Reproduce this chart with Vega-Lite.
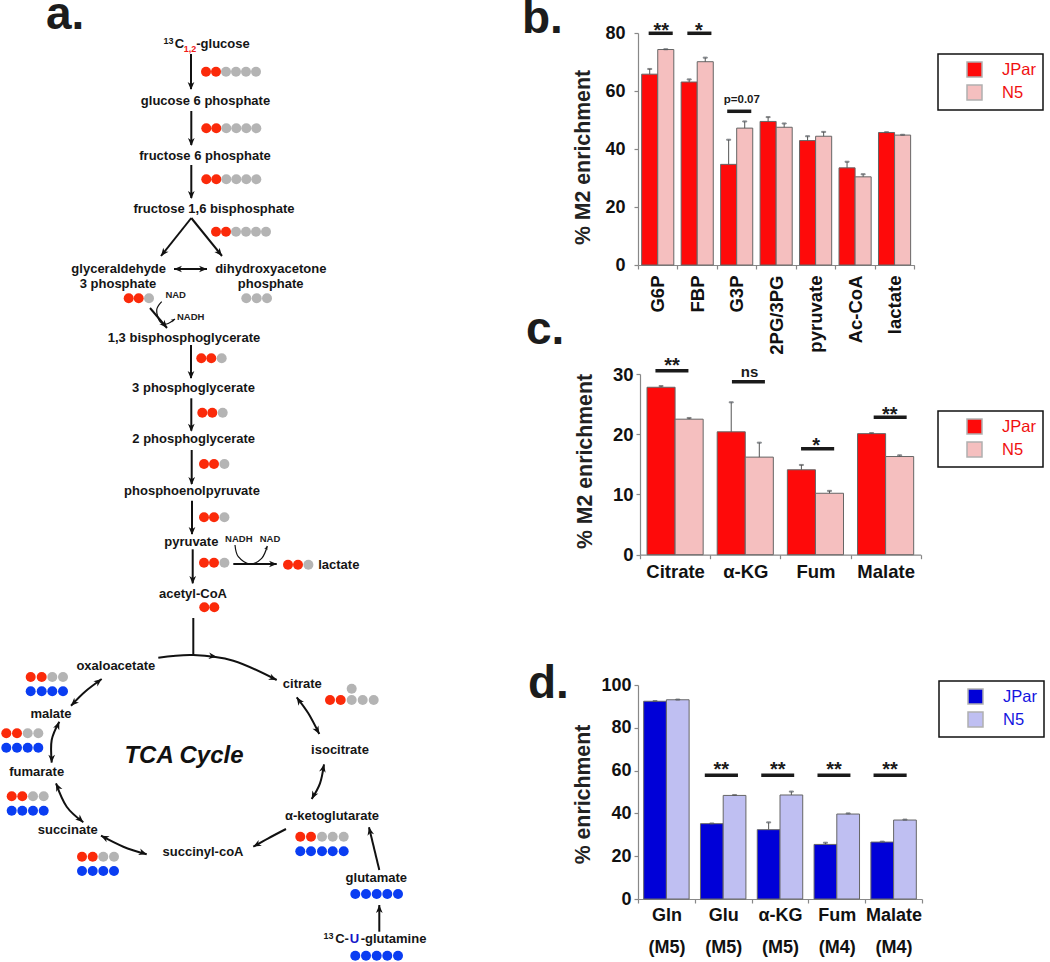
{
"$schema":"https://vega.github.io/schema/vega-lite/v6.json",
"padding":0,
"background":"white",
"bounds":"flush",
"spacing":0,
"config":{"font":"Liberation Sans","view":{"stroke":null},
"axis":{"grid":false,"labelFont":"Liberation Sans","labelFontWeight":"bold","labelFontSize":18,"labelColor":"#111","titleFont":"Liberation Sans","titleFontWeight":"bold","titleFontSize":21.3,"titleColor":"#222","domainColor":"#888","tickColor":"#888","domainWidth":1.2,"tickWidth":1.2,"tickSize":4,"labelPadding":3},
"legend":{"title":null,"symbolSize":225,"symbolType":"square","labelFont":"Liberation Sans","labelFontSize":16.5,"strokeColor":"#111","strokeWidth":1.5,"padding":7,"symbolOffset":21,"labelOffset":19,"rowPadding":2}},
"resolve":{"scale":{"color":"independent","x":"independent","y":"independent"},"legend":{"color":"independent"}},
"datasets":{
"labels":[
{"x":46,"y":29,"text":"a.","role":"letter"},
{"x":522,"y":33,"text":"b.","role":"letter"},
{"x":526,"y":344,"text":"c.","role":"letter"},
{"x":528,"y":698,"text":"d.","role":"letter"},
{"x":179.5,"y":44,"text":"C","role":"main"},
{"x":223,"y":44,"text":"-glucose","role":"main"},
{"x":205.5,"y":101,"text":"glucose 6 phosphate","role":"main"},
{"x":205,"y":155.7,"text":"fructose 6 phosphate","role":"main"},
{"x":214,"y":209,"text":"fructose 1,6 bisphosphate","role":"main"},
{"x":118.7,"y":268.7,"text":"glyceraldehyde","role":"main"},
{"x":118,"y":283.7,"text":"3 phosphate","role":"main"},
{"x":270.8,"y":268.7,"text":"dihydroxyacetone","role":"main"},
{"x":270.7,"y":283.7,"text":"phosphate","role":"main"},
{"x":184,"y":337.7,"text":"1,3 bisphosphoglycerate","role":"main"},
{"x":193.5,"y":388,"text":"3 phosphoglycerate","role":"main"},
{"x":193.7,"y":439.3,"text":"2 phosphoglycerate","role":"main"},
{"x":192,"y":490.7,"text":"phosphoenolpyruvate","role":"main"},
{"x":191.3,"y":542,"text":"pyruvate","role":"main"},
{"x":338.8,"y":564.7,"text":"lactate","role":"main"},
{"x":193,"y":594,"text":"acetyl-CoA","role":"main"},
{"x":115.8,"y":666.3,"text":"oxaloacetate","role":"main"},
{"x":302.3,"y":684.3,"text":"citrate","role":"main"},
{"x":51,"y":713.7,"text":"malate","role":"main"},
{"x":340,"y":750,"text":"isocitrate","role":"main"},
{"x":36.7,"y":771.7,"text":"fumarate","role":"main"},
{"x":332,"y":815.7,"text":"α-ketoglutarate","role":"main"},
{"x":67.7,"y":830,"text":"succinate","role":"main"},
{"x":203,"y":852,"text":"succinyl-coA","role":"main"},
{"x":376.3,"y":877.7,"text":"glutamate","role":"main"},
{"x":342,"y":939,"text":"C-","role":"main"},
{"x":393.5,"y":939,"text":"-glutamine","role":"main"},
{"x":354.5,"y":939,"text":"U","role":"blue"},
{"x":168.5,"y":41,"text":"13","role":"sup"},
{"x":328.5,"y":936,"text":"13","role":"sup"},
{"x":190,"y":49,"text":"1,2","role":"red"},
{"x":175.7,"y":295.3,"text":"NAD","role":"small"},
{"x":190.7,"y":316.7,"text":"NADH","role":"small"},
{"x":238.8,"y":539.3,"text":"NADH","role":"small"},
{"x":270,"y":539.3,"text":"NAD","role":"small"},
{"x":184,"y":756,"text":"TCA Cycle","role":"cycle"}
],
"dots":[
{"x":206,"y":71.7,"c":"r"},{"x":216,"y":71.7,"c":"r"},{"x":226,"y":71.7,"c":"a"},{"x":236,"y":71.7,"c":"a"},{"x":246,"y":71.7,"c":"a"},{"x":256,"y":71.7,"c":"a"},
{"x":206.3,"y":128.3,"c":"r"},{"x":216.3,"y":128.3,"c":"r"},{"x":226.3,"y":128.3,"c":"a"},{"x":236.3,"y":128.3,"c":"a"},{"x":246.3,"y":128.3,"c":"a"},{"x":256.3,"y":128.3,"c":"a"},
{"x":206.3,"y":179.3,"c":"r"},{"x":216.3,"y":179.3,"c":"r"},{"x":226.3,"y":179.3,"c":"a"},{"x":236.3,"y":179.3,"c":"a"},{"x":246.3,"y":179.3,"c":"a"},{"x":256.3,"y":179.3,"c":"a"},
{"x":216,"y":231.7,"c":"r"},{"x":226,"y":231.7,"c":"r"},{"x":236,"y":231.7,"c":"a"},{"x":246,"y":231.7,"c":"a"},{"x":256,"y":231.7,"c":"a"},{"x":266,"y":231.7,"c":"a"},
{"x":128.7,"y":298.3,"c":"r"},{"x":138.7,"y":298.3,"c":"r"},{"x":149,"y":298.3,"c":"a"},
{"x":246.3,"y":298.3,"c":"a"},{"x":256.7,"y":298.3,"c":"a"},{"x":267,"y":298.3,"c":"a"},
{"x":201.3,"y":358.3,"c":"r"},{"x":211.3,"y":358.3,"c":"r"},{"x":221.7,"y":358.3,"c":"a"},
{"x":202.3,"y":412.7,"c":"r"},{"x":212.3,"y":412.7,"c":"r"},{"x":222.7,"y":412.7,"c":"a"},
{"x":204,"y":464,"c":"r"},{"x":214,"y":464,"c":"r"},{"x":224.4,"y":464,"c":"a"},
{"x":204,"y":517.3,"c":"r"},{"x":214,"y":517.3,"c":"r"},{"x":224.4,"y":517.3,"c":"a"},
{"x":204,"y":562.7,"c":"r"},{"x":214,"y":562.7,"c":"r"},{"x":224.4,"y":562.7,"c":"a"},
{"x":288,"y":564.7,"c":"r"},{"x":298,"y":564.7,"c":"r"},{"x":308.4,"y":564.7,"c":"a"},
{"x":204.3,"y":607.3,"c":"r"},{"x":214.3,"y":607.3,"c":"r"},
{"x":30.7,"y":677,"c":"r"},{"x":41.7,"y":677,"c":"r"},{"x":52.3,"y":677,"c":"a"},{"x":63,"y":677,"c":"a"},
{"x":30.7,"y":691.3,"c":"b"},{"x":41.7,"y":691.3,"c":"b"},{"x":52.3,"y":691.3,"c":"b"},{"x":63,"y":691.3,"c":"b"},
{"x":6.3,"y":733.3,"c":"r"},{"x":17,"y":733.3,"c":"r"},{"x":27.7,"y":733.3,"c":"a"},{"x":38.3,"y":733.3,"c":"a"},
{"x":6.3,"y":747.7,"c":"b"},{"x":17,"y":747.7,"c":"b"},{"x":27.7,"y":747.7,"c":"b"},{"x":38.3,"y":747.7,"c":"b"},
{"x":11.7,"y":796.3,"c":"r"},{"x":22.3,"y":796.3,"c":"r"},{"x":33,"y":796.3,"c":"a"},{"x":43.7,"y":796.3,"c":"a"},
{"x":11.7,"y":810.7,"c":"b"},{"x":22.3,"y":810.7,"c":"b"},{"x":33,"y":810.7,"c":"b"},{"x":43.7,"y":810.7,"c":"b"},
{"x":82,"y":856.7,"c":"r"},{"x":92.7,"y":856.7,"c":"r"},{"x":103.3,"y":856.7,"c":"a"},{"x":114,"y":856.7,"c":"a"},
{"x":82,"y":871,"c":"b"},{"x":92.7,"y":871,"c":"b"},{"x":103.3,"y":871,"c":"b"},{"x":114,"y":871,"c":"b"},
{"x":330,"y":700,"c":"r"},{"x":340.7,"y":700,"c":"r"},{"x":351.7,"y":700,"c":"a"},{"x":362.7,"y":700,"c":"a"},{"x":373.7,"y":700,"c":"a"},{"x":351.7,"y":688.7,"c":"a"},
{"x":300.3,"y":836.7,"c":"r"},{"x":311,"y":836.7,"c":"r"},{"x":322,"y":836.7,"c":"a"},{"x":332.7,"y":836.7,"c":"a"},{"x":343.7,"y":836.7,"c":"a"},
{"x":300.3,"y":851.3,"c":"b"},{"x":311,"y":851.3,"c":"b"},{"x":322,"y":851.3,"c":"b"},{"x":332.7,"y":851.3,"c":"b"},{"x":343.7,"y":851.3,"c":"b"},
{"x":355.3,"y":894,"c":"b"},{"x":366,"y":894,"c":"b"},{"x":376.7,"y":894,"c":"b"},{"x":387.3,"y":894,"c":"b"},{"x":398,"y":894,"c":"b"},
{"x":355.3,"y":955.7,"c":"b"},{"x":366,"y":955.7,"c":"b"},{"x":376.7,"y":955.7,"c":"b"},{"x":387.3,"y":955.7,"c":"b"},{"x":398,"y":955.7,"c":"b"}
],
"shafts":[
{"id":"a1","i":0,"x":191,"y":54},{"id":"a1","i":1,"x":191,"y":89},
{"id":"a2","i":0,"x":191.3,"y":111},{"id":"a2","i":1,"x":191.3,"y":145},
{"id":"a3","i":0,"x":191.3,"y":165},{"id":"a3","i":1,"x":191.3,"y":198},
{"id":"v1","i":0,"x":191.3,"y":218},{"id":"v1","i":1,"x":161,"y":256},
{"id":"v2","i":0,"x":191.3,"y":218},{"id":"v2","i":1,"x":222,"y":256},
{"id":"d1","i":0,"x":174,"y":269},{"id":"d1","i":1,"x":207,"y":269},
{"id":"b1","i":0,"x":150,"y":308},{"id":"b1","i":1,"x":167,"y":328},
{"id":"a4","i":0,"x":191,"y":345},{"id":"a4","i":1,"x":191,"y":378},
{"id":"a5","i":0,"x":191.3,"y":398.3},{"id":"a5","i":1,"x":191.3,"y":430.7},
{"id":"a6","i":0,"x":191.7,"y":450},{"id":"a6","i":1,"x":191.7,"y":484},
{"id":"a7","i":0,"x":192,"y":500.7},{"id":"a7","i":1,"x":192,"y":534},
{"id":"a8","i":0,"x":192.7,"y":549.3},{"id":"a8","i":1,"x":192.7,"y":583.3},
{"id":"l1","i":0,"x":233.3,"y":564},{"id":"l1","i":1,"x":276.7,"y":564},
{"id":"ac","i":0,"x":193.3,"y":618},{"id":"ac","i":1,"x":193.3,"y":655},
{"id":"t1","i":0,"x":158.3,"y":657.7},{"id":"t1","i":1,"x":193.3,"y":655},{"id":"t1","i":2,"x":233.3,"y":660.7},{"id":"t1","i":3,"x":276.7,"y":680},
{"id":"t2","i":0,"x":296.7,"y":697.3},{"id":"t2","i":1,"x":308.3,"y":713.3},{"id":"t2","i":2,"x":319.3,"y":734},
{"id":"t3","i":0,"x":324,"y":764.3},{"id":"t3","i":1,"x":320,"y":783.3},{"id":"t3","i":2,"x":311.7,"y":799},
{"id":"t4","i":0,"x":286,"y":829},{"id":"t4","i":1,"x":268.3,"y":838.3},{"id":"t4","i":2,"x":253.3,"y":846.7},
{"id":"t5","i":0,"x":146.7,"y":854.3},{"id":"t5","i":1,"x":123.3,"y":846.7},{"id":"t5","i":2,"x":101,"y":835.7},
{"id":"t6","i":0,"x":83.3,"y":822.3},{"id":"t6","i":1,"x":66.7,"y":806.7},{"id":"t6","i":2,"x":56,"y":783.3},
{"id":"t7","i":0,"x":51.7,"y":762.7},{"id":"t7","i":1,"x":51.7,"y":740},{"id":"t7","i":2,"x":59.3,"y":721.7},
{"id":"t8","i":0,"x":71,"y":705.7},{"id":"t8","i":1,"x":85,"y":691.7},{"id":"t8","i":2,"x":101.7,"y":679},
{"id":"g1","i":0,"x":379.3,"y":870},{"id":"g1","i":1,"x":369,"y":827.3},
{"id":"g2","i":0,"x":379.3,"y":931.7},{"id":"g2","i":1,"x":379.3,"y":905}
],
"thin":[
{"id":"n1","i":0,"x":161.7,"y":301.7},{"id":"n1","i":1,"x":156.7,"y":310},{"id":"n1","i":2,"x":160,"y":321.7},{"id":"n1","i":3,"x":166.7,"y":324},{"id":"n1","i":4,"x":175,"y":319},
{"id":"n2","i":0,"x":235,"y":545},{"id":"n2","i":1,"x":238.3,"y":556.7},{"id":"n2","i":2,"x":250,"y":564},{"id":"n2","i":3,"x":261.7,"y":558.3},{"id":"n2","i":4,"x":267.3,"y":546}
],
"heads":[
{"x":191,"y":90,"angle":180},{"x":191.3,"y":146,"angle":180},{"x":191.3,"y":199,"angle":180},
{"x":161,"y":256,"angle":218},{"x":222,"y":256,"angle":141},
{"x":174,"y":269,"angle":270},{"x":207,"y":269,"angle":90},
{"x":167,"y":328,"angle":140},
{"x":191,"y":379,"angle":180},{"x":191.3,"y":431.7,"angle":180},{"x":191.7,"y":485,"angle":180},{"x":192,"y":535,"angle":180},{"x":192.7,"y":584,"angle":180},
{"x":277,"y":564,"angle":90},
{"x":276.7,"y":680,"angle":114},{"x":216.7,"y":656.7,"angle":97},
{"x":296.7,"y":697.3,"angle":325.5},{"x":319.3,"y":734,"angle":151},
{"x":324,"y":764.3,"angle":12},{"x":311.7,"y":799,"angle":207},
{"x":253.3,"y":846.7,"angle":241},
{"x":146.7,"y":854.3,"angle":109},{"x":101,"y":835.7,"angle":296.6},
{"x":83.3,"y":822.3,"angle":132.5},{"x":56,"y":783.3,"angle":335},
{"x":51.7,"y":762.7,"angle":180},{"x":59.3,"y":721.7,"angle":23},
{"x":71,"y":705.7,"angle":225},{"x":101.7,"y":679,"angle":52.7},
{"x":369,"y":827.3,"angle":347},{"x":379.3,"y":905,"angle":0}
],
"smallheads":[{"x":175,"y":319,"angle":58},{"x":267.3,"y":546,"angle":22}],
"barsB":[
{"category":"G6P","series":"JPar","value":65.8,"upper":67.6},{"category":"G6P","series":"N5","value":74.3,"upper":74.4},
{"category":"FBP","series":"JPar","value":63.1,"upper":64},{"category":"FBP","series":"N5","value":70.1,"upper":71.5},
{"category":"G3P","series":"JPar","value":34.7,"upper":43.2},{"category":"G3P","series":"N5","value":47.2,"upper":49.5},
{"category":"2PG/3PG","series":"JPar","value":49.5,"upper":51},{"category":"2PG/3PG","series":"N5","value":47.5,"upper":48.8},
{"category":"pyruvate","series":"JPar","value":42.9,"upper":44.4},{"category":"pyruvate","series":"N5","value":44.4,"upper":45.9},
{"category":"Ac-CoA","series":"JPar","value":33.5,"upper":35.6},{"category":"Ac-CoA","series":"N5","value":30.4,"upper":31.3},
{"category":"lactate","series":"JPar","value":45.7,"upper":45.8},{"category":"lactate","series":"N5","value":44.8,"upper":44.9}
],
"barsC":[
{"category":"Citrate","series":"JPar","value":27.8,"upper":28},{"category":"Citrate","series":"N5","value":22.5,"upper":22.7},
{"category":"α-KG","series":"JPar","value":20.4,"upper":25.3},{"category":"α-KG","series":"N5","value":16.2,"upper":18.6},
{"category":"Fum","series":"JPar","value":14.1,"upper":14.9},{"category":"Fum","series":"N5","value":10.2,"upper":10.6},
{"category":"Malate","series":"JPar","value":20.1,"upper":20.2},{"category":"Malate","series":"N5","value":16.3,"upper":16.5}
],
"barsD":[
{"category":"Gln (M5)","series":"JPar","value":92.4,"upper":92.5},{"category":"Gln (M5)","series":"N5","value":93.1,"upper":93.2},
{"category":"Glu (M5)","series":"JPar","value":35.2,"upper":35.3},{"category":"Glu (M5)","series":"N5","value":48.4,"upper":48.6},
{"category":"α-KG (M5)","series":"JPar","value":32.4,"upper":35.8},{"category":"α-KG (M5)","series":"N5","value":48.6,"upper":50.2},
{"category":"Fum (M4)","series":"JPar","value":25.5,"upper":26.3},{"category":"Fum (M4)","series":"N5","value":39.7,"upper":40},
{"category":"Malate (M4)","series":"JPar","value":26.6,"upper":26.8},{"category":"Malate (M4)","series":"N5","value":36.9,"upper":37.1}
],
"sigB":[{"start":0.27,"end":0.88,"y":79.9},{"start":1.25,"end":1.86,"y":79.9},{"start":2.26,"end":2.87,"y":53}],
"textB":[{"start":0.59,"y":81.5,"text":"**","kind":"star"},{"start":1.54,"y":81.5,"text":"*","kind":"star"},{"start":2.63,"y":57,"text":"p=0.07","kind":"note"}],
"sigC":[{"start":0.22,"end":0.69,"y":30.56},{"start":1.31,"end":1.78,"y":28.7},{"start":2.295,"end":2.767,"y":17.6},{"start":3.33,"end":3.8,"y":22.8}],
"textC":[{"start":0.457,"y":31.6,"text":"**","kind":"star"},{"start":1.56,"y":30.3,"text":"ns","kind":"note"},{"start":2.51,"y":18.4,"text":"*","kind":"star"},{"start":3.56,"y":23.6,"text":"**","kind":"star"}],
"sigD":[{"start":1.176,"end":1.76,"y":57.8},{"start":2.17,"end":2.75,"y":57.8},{"start":3.16,"end":3.74,"y":57.8},{"start":4.147,"end":4.73,"y":57.8}],
"textD":[{"start":1.465,"y":61,"text":"**","kind":"star"},{"start":2.46,"y":61,"text":"**","kind":"star"},{"start":3.45,"y":61,"text":"**","kind":"star"},{"start":4.435,"y":61,"text":"**","kind":"star"}]
},
"hconcat":[
{"width":638,"height":962,
"encoding":{
"x":{"field":"x","type":"quantitative","scale":{"domain":[0,638],"nice":false,"zero":false},"axis":null},
"y":{"field":"y","type":"quantitative","scale":{"domain":[0,962],"reverse":true,"nice":false,"zero":false},"axis":null}},
"layer":[
{"data":{"name":"shafts"},"mark":{"type":"line","interpolate":"cardinal","strokeWidth":2,"color":"#111"},"encoding":{"detail":{"field":"id"},"order":{"field":"i","type":"quantitative"}}},
{"data":{"name":"thin"},"mark":{"type":"line","interpolate":"cardinal","strokeWidth":1.2,"color":"#111"},"encoding":{"detail":{"field":"id"},"order":{"field":"i","type":"quantitative"}}},
{"data":{"name":"heads"},"mark":{"type":"point","shape":"M0,0L-0.8,1.9L0,1.35L0.8,1.9Z","filled":true,"size":70,"color":"#111","opacity":1},"encoding":{"angle":{"field":"angle","type":"quantitative","scale":null}}},
{"data":{"name":"smallheads"},"mark":{"type":"point","shape":"M0,0L-0.8,1.9L0,1.35L0.8,1.9Z","filled":true,"size":18,"color":"#111","opacity":1},"encoding":{"angle":{"field":"angle","type":"quantitative","scale":null}}},
{"data":{"name":"dots"},"mark":{"type":"point","shape":"circle","filled":true,"size":100,"opacity":1},"encoding":{"color":{"field":"c","type":"nominal","scale":{"domain":["r","a","b"],"range":["#fb2a0a","#b4b4b4","#0a3df2"]},"legend":null}}},
{"data":{"name":"labels"},"transform":[{"filter":"datum.role=='main'"}],"mark":{"type":"text","font":"Liberation Sans","fontWeight":"bold","fontSize":13,"color":"#151515"},"encoding":{"text":{"field":"text"}}},
{"data":{"name":"labels"},"transform":[{"filter":"datum.role=='small'"}],"mark":{"type":"text","font":"Liberation Sans","fontWeight":"bold","fontSize":9.5,"color":"#222"},"encoding":{"text":{"field":"text"}}},
{"data":{"name":"labels"},"transform":[{"filter":"datum.role=='sup'"}],"mark":{"type":"text","font":"Liberation Sans","fontWeight":"bold","fontSize":9,"color":"#151515"},"encoding":{"text":{"field":"text"}}},
{"data":{"name":"labels"},"transform":[{"filter":"datum.role=='red'"}],"mark":{"type":"text","font":"Liberation Sans","fontWeight":"bold","fontSize":9,"color":"#f01818"},"encoding":{"text":{"field":"text"}}},
{"data":{"name":"labels"},"transform":[{"filter":"datum.role=='blue'"}],"mark":{"type":"text","font":"Liberation Sans","fontWeight":"bold","fontSize":13,"color":"#1414c8"},"encoding":{"text":{"field":"text"}}},
{"data":{"name":"labels"},"transform":[{"filter":"datum.role=='cycle'"}],"mark":{"type":"text","font":"Liberation Sans","fontWeight":"bold","fontStyle":"italic","fontSize":24,"color":"#111"},"encoding":{"text":{"field":"text"}}},
{"data":{"name":"labels"},"transform":[{"filter":"datum.role=='letter'"}],"mark":{"type":"text","font":"Liberation Sans","fontWeight":"bold","fontSize":46,"color":"#1c1c1c","align":"left","baseline":"alphabetic","clip":true},"encoding":{"text":{"field":"text"}}}
]},
{"vconcat":[
{"width":1,"height":33,"data":{"values":[{"spacer":0}]},"mark":{"type":"point","opacity":0},"encoding":{}},
{"width":276.3,"height":232,
"encoding":{"x":{"field":"start","type":"quantitative","scale":{"domain":[0,7],"nice":false,"zero":false},"axis":{"title":null,"values":[0,1,2,3,4,5,6,7],"labelExpr":"datum.value<7?['G6P','FBP','G3P','2PG/3PG','pyruvate','Ac-CoA','lactate'][datum.value]:''","labelOffset":19.7,"labelOverlap":false,"labelFlush":false,"labelAngle":270,"labelPadding":6,"labelFontSize":18.5}}},
"layer":[
{"data":{"name":"barsB"},"transform":[{"calculate":"indexof(['G6P','FBP','G3P','2PG/3PG','pyruvate','Ac-CoA','lactate'],datum.category)+(datum.series=='JPar'?0.093:0.5)","as":"start"},{"calculate":"datum.start+0.407","as":"end"}],
"mark":{"type":"rect","stroke":"#666","strokeWidth":1},
"encoding":{
"x2":{"field":"end"},
"y":{"field":"value","type":"quantitative","scale":{"domain":[0,80],"nice":false},"axis":{"title":"% M2 enrichment","titleX":-55,"titleY":124,"titleBaseline":"middle","labelPadding":9,"values":[0,10,20,30,40,50,60,70,80],"labelExpr":"datum.value%20==0?datum.label:''"}},
"y2":{"datum":0},
"color":{"field":"series","type":"nominal","scale":{"domain":["JPar","N5"],"range":["#fe0a0a","#f5bfbf"]},"legend":{"orient":"none","legendX":300,"legendY":21,"labelColor":"#f01010","symbolStrokeColor":"#b0b0b0"}}}},
{"data":{"name":"barsB"},"transform":[{"calculate":"indexof(['G6P','FBP','G3P','2PG/3PG','pyruvate','Ac-CoA','lactate'],datum.category)+(datum.series=='JPar'?0.2965:0.7035)","as":"start"}],
"mark":{"type":"rule","stroke":"#555","strokeWidth":1},"encoding":{"y":{"field":"value","type":"quantitative"},"y2":{"field":"upper"}}},
{"data":{"name":"barsB"},"transform":[{"calculate":"indexof(['G6P','FBP','G3P','2PG/3PG','pyruvate','Ac-CoA','lactate'],datum.category)+(datum.series=='JPar'?0.2965:0.7035)","as":"start"}],
"mark":{"type":"tick","orient":"horizontal","stroke":"#555","size":4,"thickness":1},"encoding":{"y":{"field":"upper","type":"quantitative"}}},
{"data":{"name":"sigB"},"mark":{"type":"rule","strokeWidth":3.5,"color":"#1a1a1a"},"encoding":{"x2":{"field":"end"},"y":{"field":"y","type":"quantitative"}}},
{"data":{"name":"textB"},"transform":[{"filter":"datum.kind=='star'"}],"mark":{"type":"text","fontWeight":"bold","fontSize":20,"dy":2,"color":"#1a1a1a"},
"encoding":{"y":{"field":"y","type":"quantitative"},"text":{"field":"text"}}},
{"data":{"name":"textB"},"transform":[{"filter":"datum.kind=='note'"}],"mark":{"type":"text","fontWeight":"bold","fontSize":11.5,"color":"#1a1a1a"},
"encoding":{"y":{"field":"y","type":"quantitative"},"text":{"field":"text"}}}
]},
{"width":1,"height":109,"data":{"values":[{"spacer":0}]},"mark":{"type":"point","opacity":0},"encoding":{}},
{"width":283,"height":180.7,
"encoding":{"x":{"field":"start","type":"quantitative","scale":{"domain":[0,4],"nice":false,"zero":false,"range":[2,282.7]},"axis":{"title":null,"values":[0,1,2,3,4],"labelExpr":"datum.value<4?['Citrate','α-KG','Fum','Malate'][datum.value]:''","labelOffset":35.1,"labelOverlap":false,"labelFlush":false,"labelAngle":0,"labelPadding":4,"labelFontSize":18.5}}},
"layer":[
{"data":{"name":"barsC"},"transform":[{"calculate":"indexof(['Citrate','α-KG','Fum','Malate'],datum.category)+(datum.series=='JPar'?0.1:0.5)","as":"start"},{"calculate":"datum.start+0.4","as":"end"}],
"mark":{"type":"rect","stroke":"#666","strokeWidth":1},
"encoding":{
"x2":{"field":"end"},
"y":{"field":"value","type":"quantitative","scale":{"domain":[0,30],"nice":false},"axis":{"title":"% M2 enrichment","offset":-2,"titleX":-55,"titleY":87,"titleBaseline":"middle","labelFontSize":18.5,"values":[0,5,10,15,20,25,30],"labelExpr":"datum.value%10==0?datum.label:''"}},
"y2":{"datum":0},
"color":{"field":"series","type":"nominal","scale":{"domain":["JPar","N5"],"range":["#fe0a0a","#f5bfbf"]},"legend":{"orient":"none","legendX":300,"legendY":37,"labelColor":"#f01010","symbolStrokeColor":"#b0b0b0"}}}},
{"data":{"name":"barsC"},"transform":[{"calculate":"indexof(['Citrate','α-KG','Fum','Malate'],datum.category)+(datum.series=='JPar'?0.3:0.7)","as":"start"}],
"mark":{"type":"rule","stroke":"#555","strokeWidth":1},"encoding":{"y":{"field":"value","type":"quantitative"},"y2":{"field":"upper"}}},
{"data":{"name":"barsC"},"transform":[{"calculate":"indexof(['Citrate','α-KG','Fum','Malate'],datum.category)+(datum.series=='JPar'?0.3:0.7)","as":"start"}],
"mark":{"type":"tick","orient":"horizontal","stroke":"#555","size":4,"thickness":1},"encoding":{"y":{"field":"upper","type":"quantitative"}}},
{"data":{"name":"sigC"},"mark":{"type":"rule","strokeWidth":3.5,"color":"#1a1a1a"},"encoding":{"x2":{"field":"end"},"y":{"field":"y","type":"quantitative"}}},
{"data":{"name":"textC"},"transform":[{"filter":"datum.kind=='star'"}],"mark":{"type":"text","fontWeight":"bold","fontSize":20,"dy":2,"color":"#1a1a1a"},
"encoding":{"y":{"field":"y","type":"quantitative"},"text":{"field":"text"}}},
{"data":{"name":"textC"},"transform":[{"filter":"datum.kind=='note'"}],"mark":{"type":"text","fontWeight":"bold","fontSize":15,"color":"#1a1a1a"},
"encoding":{"y":{"field":"y","type":"quantitative"},"text":{"field":"text"}}}
]},
{"width":1,"height":129.3,"data":{"values":[{"spacer":0}]},"mark":{"type":"point","opacity":0},"encoding":{}},
{"width":284,"height":214,
"encoding":{"x":{"field":"start","type":"quantitative","scale":{"domain":[0,5],"nice":false,"zero":false},"axis":{"title":null,"values":[0,1,2,3,4,5],"labelExpr":"datum.value<5?split(['Gln (M5)','Glu (M5)','α-KG (M5)','Fum (M4)','Malate (M4)'][datum.value],' '):''","labelOffset":28.4,"labelOverlap":false,"labelFlush":false,"labelAngle":0,"labelPadding":3,"labelLineHeight":32,"labelBaseline":"top"}}},
"layer":[
{"data":{"name":"barsD"},"transform":[{"calculate":"indexof(['Gln (M5)','Glu (M5)','α-KG (M5)','Fum (M4)','Malate (M4)'],datum.category)+(datum.series=='JPar'?0.1:0.5)","as":"start"},{"calculate":"datum.start+0.4","as":"end"}],
"mark":{"type":"rect","stroke":"#666","strokeWidth":1},
"encoding":{
"x2":{"field":"end"},
"y":{"field":"value","type":"quantitative","scale":{"domain":[0,100],"nice":false},"axis":{"title":"% enrichment","titleX":-55,"titleY":109,"titleBaseline":"middle","values":[0,20,40,60,80,100]}},
"y2":{"datum":0},
"color":{"field":"series","type":"nominal","scale":{"domain":["JPar","N5"],"range":["#0000d8","#bfbff2"]},"legend":{"orient":"none","legendX":301,"legendY":-4,"labelColor":"#1414e0","symbolStrokeColor":"#b0b0b0"}}}},
{"data":{"name":"barsD"},"transform":[{"calculate":"indexof(['Gln (M5)','Glu (M5)','α-KG (M5)','Fum (M4)','Malate (M4)'],datum.category)+(datum.series=='JPar'?0.3:0.7)","as":"start"}],
"mark":{"type":"rule","stroke":"#555","strokeWidth":1},"encoding":{"y":{"field":"value","type":"quantitative"},"y2":{"field":"upper"}}},
{"data":{"name":"barsD"},"transform":[{"calculate":"indexof(['Gln (M5)','Glu (M5)','α-KG (M5)','Fum (M4)','Malate (M4)'],datum.category)+(datum.series=='JPar'?0.3:0.7)","as":"start"}],
"mark":{"type":"tick","orient":"horizontal","stroke":"#555","size":4,"thickness":1},"encoding":{"y":{"field":"upper","type":"quantitative"}}},
{"data":{"name":"sigD"},"mark":{"type":"rule","strokeWidth":3.5,"color":"#1a1a1a"},"encoding":{"x2":{"field":"end"},"y":{"field":"y","type":"quantitative"}}},
{"data":{"name":"textD"},"mark":{"type":"text","fontWeight":"bold","fontSize":20,"dy":2,"color":"#1a1a1a"},
"encoding":{"y":{"field":"y","type":"quantitative"},"text":{"field":"text"}}}
]}
],"spacing":0,"bounds":"flush","resolve":{"scale":{"color":"independent","x":"independent","y":"independent"},"legend":{"color":"independent"}}}
]
}
